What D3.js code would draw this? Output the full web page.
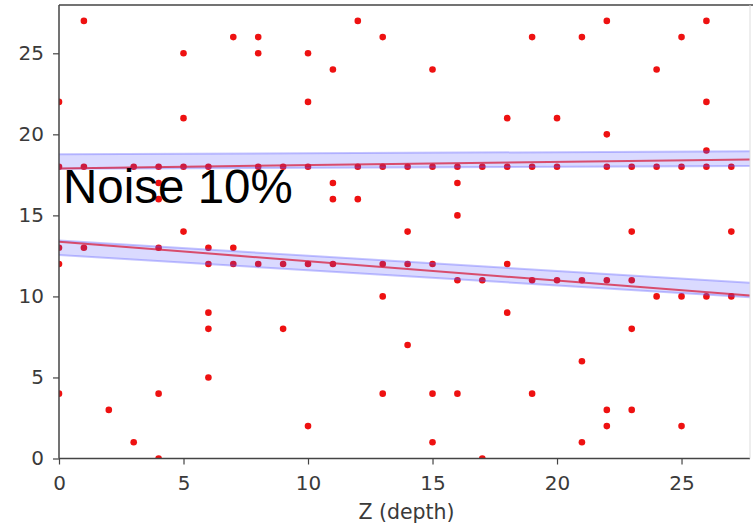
<!DOCTYPE html>
<html>
<head>
<meta charset="utf-8">
<script src="https://cdn.jsdelivr.net/npm/d3@7"></script>
<style>
  body { margin: 0; background: #fff; }
  svg { display: block; }
</style>
</head>
<body>
<svg id="chart" width="753" height="526"></svg>
<script>
// points: depth (x) and y, one entry each
const depthVals = [
  0,0,0,0,0, 1,1,1, 2, 3,3, 4,4,4,4,4,4, 5,5,5,5, 6,6,6,6,6,6, 7,7,7, 8,8,8,8,
  9,9,9, 10,10,10,10,10, 11,11,11,11, 12,12,12, 13,13,13,13,13, 14,14,14,14,
  15,15,15,15,15, 16,16,16,16,16, 17,17,17, 18,18,18,18, 19,19,19,19, 20,20,20,
  21,21,21,21, 22,22,22,22,22,22, 23,23,23,23,23, 24,24,24, 25,25,25,25,
  26,26,26,26,26, 27,27,27
];
const yVals = [
  22,18,13,12,4, 27,18,13, 3, 18,1, 18,17,16,13,4,0, 25,21,18,14, 18,13,12,9,8,5, 26,13,12, 26,25,18,12,
  18,12,8, 25,22,18,12,2, 24,17,16,12, 27,18,16, 26,18,12,10,4, 18,14,12,7,
  24,18,12,4,1, 18,17,15,11,4, 18,11,0, 21,18,12,9, 26,18,11,4, 21,18,11,
  26,11,6,1, 27,20,18,11,3,2, 18,14,11,8,3, 24,18,10, 26,18,10,2,
  27,22,19,18,10, 18,14,10
];

// fitted lines, values at the two ends of the x range
const lineEnds = [0, 27.75];
const redUpper = [17.9, 18.45];
const redLower = [13.37, 10.05];
const blueUpper = [18.32, 18.5];
const blueLower = [13.0, 10.4];
const bandHalf = 0.45;

const xTicks = [0, 5, 10, 15, 20, 25];
const yTicks = [0, 5, 10, 15, 20, 25];

const svg = d3.select("#chart");
const padL = 59, padR = 750, padT = 5, padB = 458.5;

const x = d3.scaleLinear().domain([0, 27.75]).range([padL, padR]);
const y = d3.scaleLinear().domain([0, 27.98]).range([padB, padT]);

svg.append("defs").append("clipPath").attr("id", "plotclip")
  .append("rect").attr("x", padL).attr("y", padT)
  .attr("width", padR - padL).attr("height", padB - padT);

const plot = svg.append("g").attr("clip-path", "url(#plotclip)");

// points first, the bands sit on top of them
plot.append("g")
  .selectAll("circle")
  .data(depthVals.map((d, i) => [d, yVals[i]]))
  .enter()
  .append("circle")
  .attr("cx", d => x(d[0]))
  .attr("cy", d => y(d[1]))
  .attr("r", 3.3)
  .attr("fill", "#ee1111");

const line = d3.line().x(d => x(d[0])).y(d => y(d[1]));
const area = d3.area().x(d => x(d[0])).y0(d => y(d[1] - bandHalf)).y1(d => y(d[1] + bandHalf));

for (const b of [blueUpper, blueLower]) {
  const pts = lineEnds.map((e, i) => [e, b[i]]);
  plot.append("path").attr("d", area(pts))
    .attr("fill", "rgba(70,70,255,0.2)");
  for (const off of [-bandHalf, bandHalf]) {
    plot.append("path").attr("d", line(pts.map(p => [p[0], p[1] + off])))
      .attr("fill", "none").attr("stroke", "rgba(90,90,255,0.35)").attr("stroke-width", 2);
  }
}

for (const r of [redUpper, redLower]) {
  plot.append("path").attr("d", line(lineEnds.map((e, i) => [e, r[i]])))
    .attr("fill", "none").attr("stroke", "rgba(215,30,60,0.75)").attr("stroke-width", 2);
}

// axes
const xAxis = svg.append("g").attr("transform", `translate(0,${padB})`)
  .call(d3.axisBottom(x).tickValues(xTicks).tickSize(6).tickPadding(11));
const yAxis = svg.append("g").attr("transform", `translate(${padL},0)`)
  .call(d3.axisLeft(y).tickValues(yTicks).tickSize(6).tickPadding(9));

for (const ax of [xAxis, yAxis]) {
  ax.select(".domain").remove();
  ax.selectAll("line").attr("stroke", "#444").attr("stroke-width", 1.2);
  ax.selectAll("text").attr("font-family", "DejaVu Sans").attr("font-size", 20).attr("fill", "#3a3a3a");
}

// frame
svg.append("line").attr("x1", padL).attr("x2", padL).attr("y1", padT).attr("y2", padB)
  .attr("stroke", "#444").attr("stroke-width", 1.5);
svg.append("line").attr("x1", padL).attr("x2", padR).attr("y1", padB).attr("y2", padB)
  .attr("stroke", "#444").attr("stroke-width", 1.5);
svg.append("line").attr("x1", padL).attr("x2", 753).attr("y1", padT).attr("y2", padT)
  .attr("stroke", "#444").attr("stroke-width", 1.5);
svg.append("line").attr("x1", padR).attr("x2", padR).attr("y1", padT).attr("y2", padB)
  .attr("stroke", "#ddd").attr("stroke-width", 1);

svg.append("text")
  .attr("x", (padL + padR) / 2 + 2).attr("y", 519)
  .attr("text-anchor", "middle")
  .attr("font-family", "DejaVu Sans").attr("font-size", 20.5).attr("fill", "#3a3a3a")
  .text("Z (depth)");

svg.append("text")
  .attr("x", 63).attr("y", 203)
  .attr("font-family", "Liberation Sans").attr("font-size", 47.5).attr("fill", "#000")
  .text("Noise 10%");
</script>
</body>
</html>
